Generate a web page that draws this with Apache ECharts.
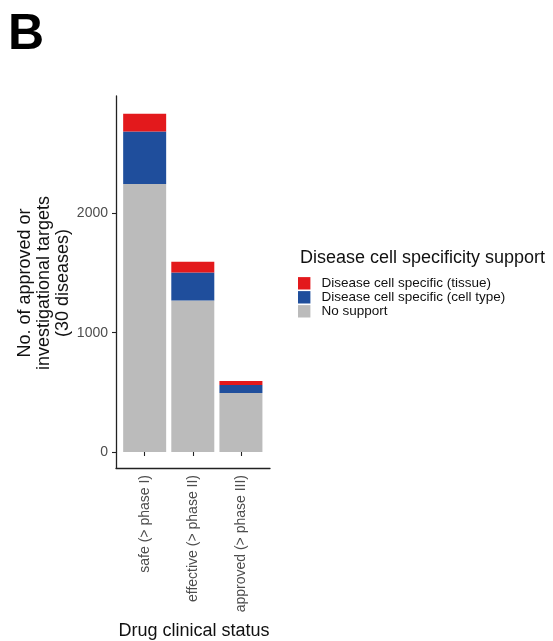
<!DOCTYPE html>
<html>
<head>
<meta charset="utf-8">
<script src="https://cdn.jsdelivr.net/npm/echarts@6/dist/echarts.min.js"></script>
<style>html,body{margin:0;padding:0;background:#fff}#c{width:553px;height:641px}</style>
</head>
<body>
<div id="c"></div>
<script>
const categories = ['safe (> phase I)', 'effective (> phase II)', 'approved (> phase III)'];
const noSupport = [2246, 1269, 495];
const cellType = [441, 235, 67];
const tissue = [149, 90, 34];
const yTicks = [0, 1000, 2000];
const seriesNames = ['Disease cell specific (tissue)', 'Disease cell specific (cell type)', 'No support'];

const FONT = '"Liberation Sans", Arial, Helvetica, sans-serif';
const AXIS_COLOR = '#222';
const Y_MIN = -134, Y_MAX = 2984;

const chart = echarts.init(document.getElementById('c'));
chart.setOption({
  animation: false,
  textStyle: { fontFamily: FONT },
  grid: [
    { left: 120.6, right: 288, top: 96, bottom: 173 },
    { left: 116, right: 283, top: 96, bottom: 173 }
  ],
  xAxis: [
    {
      type: 'category', gridIndex: 0, data: categories, boundaryGap: true,
      axisLine: { show: false },
      axisTick: { show: true, alignWithLabel: true, length: 4, lineStyle: { color: AXIS_COLOR, width: 1.1 } },
      axisLabel: { rotate: 90, margin: 7, fontSize: 14, color: '#4d4d4d', fontFamily: FONT, interval: 0 }
    },
    {
      type: 'value', gridIndex: 1, min: 0, max: 1,
      splitLine: { show: false }, axisTick: { show: false }, axisLabel: { show: false },
      axisLine: { show: true, lineStyle: { color: AXIS_COLOR, width: 1.3 } }
    }
  ],
  yAxis: [
    {
      type: 'value', gridIndex: 0, min: Y_MIN, max: Y_MAX, offset: 4.6,
      splitLine: { show: false },
      axisLine: { show: true, lineStyle: { color: AXIS_COLOR, width: 1.3 } },
      axisTick: { show: true, length: 4, lineStyle: { color: AXIS_COLOR, width: 1.1 }, customValues: yTicks },
      axisLabel: { customValues: yTicks, fontSize: 14, color: '#4d4d4d', margin: 8, fontFamily: FONT, formatter: v => String(v) }
    },
    {
      type: 'value', gridIndex: 1, min: 0, max: 1, show: false
    }
  ],
  legend: {
    orient: 'vertical', left: 298, top: 276.3, padding: 0,
    itemWidth: 12.4, itemHeight: 12.4, itemGap: 0,
    icon: 'rect',
    data: seriesNames,
    textStyle: { fontSize: 13.5, color: '#111', fontFamily: FONT, padding: [0, 0, 0, 6], lineHeight: 12.4 }
  },
  graphic: [
    { type: 'text', x: 8, y: 10, style: { text: 'B', font: 'bold 50px ' + FONT, fill: '#000', verticalAlign: 'top' } },
    { type: 'text', x: 300, y: 258.5, style: { text: 'Disease cell specificity support', font: '18px ' + FONT, fill: '#111', align: 'left', verticalAlign: 'middle' } },
    { type: 'text', x: 194, y: 631, style: { text: 'Drug clinical status', font: '18px ' + FONT, fill: '#111', align: 'center', verticalAlign: 'middle' } },
    { type: 'text', x: 44, y: 283, rotation: Math.PI / 2, style: { text: 'No. of approved or\ninvestigational targets\n(30 diseases)', font: '18px ' + FONT, lineHeight: 19, fill: '#111', align: 'center', verticalAlign: 'middle' } }
  ],
  series: [
    { name: 'No support', type: 'bar', stack: 's', xAxisIndex: 0, yAxisIndex: 0, barWidth: 43, data: noSupport, itemStyle: { color: '#BBBBBB' } },
    { name: 'Disease cell specific (cell type)', type: 'bar', stack: 's', xAxisIndex: 0, yAxisIndex: 0, barWidth: 43, data: cellType, itemStyle: { color: '#1F4E9C' } },
    { name: 'Disease cell specific (tissue)', type: 'bar', stack: 's', xAxisIndex: 0, yAxisIndex: 0, barWidth: 43, data: tissue, itemStyle: { color: '#E3191C' } }
  ]
});
</script>
</body>
</html>
